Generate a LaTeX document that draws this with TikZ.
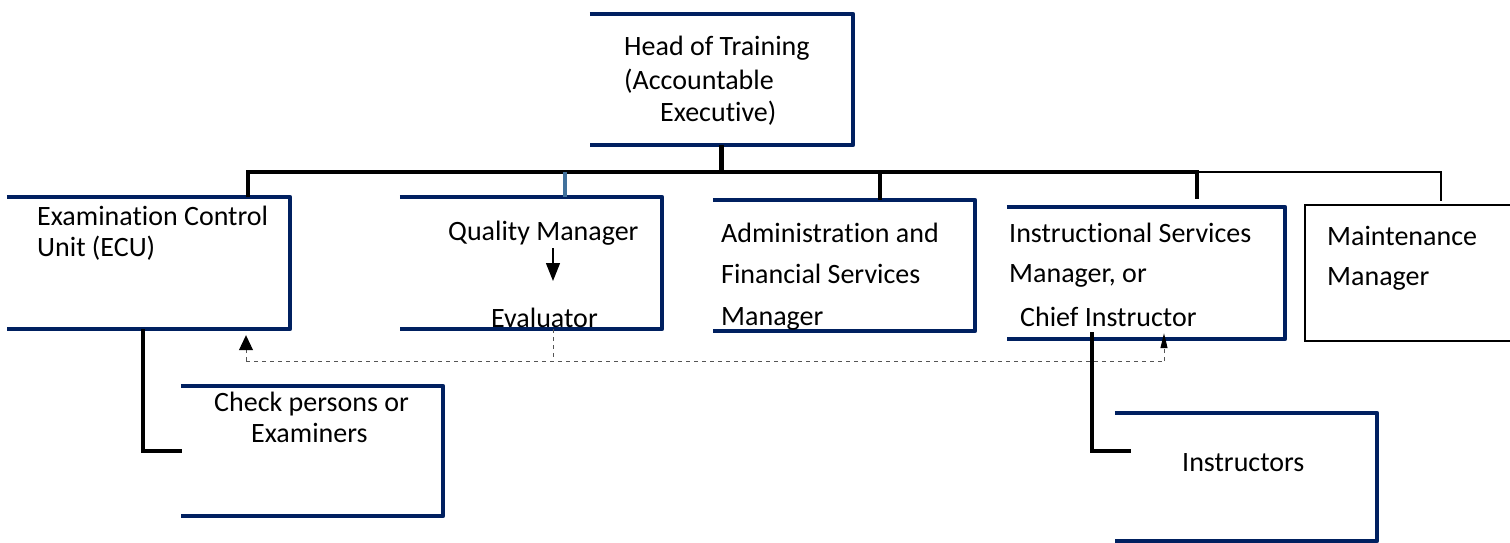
\documentclass[tikz,border=0pt]{standalone}
\usepackage{fontspec}
\setmainfont{Carlito}[RawFeature={-liga;-clig;-calt;-dlig}]
\usetikzlibrary{arrows.meta}
\definecolor{navy}{HTML}{002060}
\definecolor{steel}{HTML}{41719C}
\definecolor{dgray}{HTML}{555555}
\begin{document}
\begin{tikzpicture}[x=1pt,y=-1pt,
  box/.style={rectangle,inner sep=0pt,draw=none},
  txt/.style={inner sep=0pt,anchor=base west,font=\fontsize{28}{33}\selectfont},
  border/.style={draw=navy,line width=4pt,line join=round},
  conn/.style={draw=black,line width=4.5pt},
  thinconn/.style={draw=black,line width=1.3pt},
  dashd/.style={draw=dgray,line width=1pt,dash pattern=on 4pt off 4pt}]
\useasboundingbox (0,0) rectangle (1510,542);
% boxes
\node[box,minimum width=263pt,minimum height=131pt] (head) at (721.5,79.5) {};
\node[box,minimum width=283pt,minimum height=132pt] (ecu) at (148.5,263) {};
\node[box,minimum width=262pt,minimum height=132pt] (qm) at (531,263) {};
\node[box,minimum width=262pt,minimum height=131pt] (admin) at (844,265.5) {};
\node[box,minimum width=278pt,minimum height=132pt] (instr) at (1146,273) {};
\node[box,draw=black,line width=1.3pt,minimum width=225pt,minimum height=136pt] (maint) at (1417.5,273) {};
\node[box,minimum width=262pt,minimum height=130pt] (check) at (312,451) {};
\node[box,minimum width=262pt,minimum height=128pt] (instrs) at (1246,477) {};
\foreach \n in {head,ecu,qm,admin,instr,check,instrs}
  \draw[border] (\n.north west) -- (\n.north east) -- (\n.south east) -- (\n.south west);
% bus and drops
\coordinate (bL) at (248,172);
\coordinate (bQ) at (565,172);
\coordinate (bA) at (880,172);
\coordinate (bR) at (1197,172);
\coordinate (bM) at (1441,172);
\coordinate (instrDrop) at (1197,199);
\draw[conn] (head.south) -- (head.south |- bL);
\draw[conn] (bL |- ecu.north) -- (bL) -- (bR) -- (instrDrop);
\draw[conn] (bA) -- (bA |- admin.north);
\draw[draw=steel,line width=4pt] (bQ) -- (bQ |- qm.north);
\draw[thinconn] (bR) -- (bM) -- ([yshift=3pt]bM |- maint.north);
% subordinate connectors
\coordinate (ecuTurn) at (143,451);
\draw[conn] (ecuTurn |- ecu.south) -- (ecuTurn) -- ([xshift=1pt]ecuTurn -| check.west);
\coordinate (insTurn) at (1092,451);
\draw[conn] ([yshift=7pt]insTurn |- instr.south) -- (insTurn) -- ([xshift=16pt]insTurn -| instrs.west);
% quality manager arrow
\coordinate (qmA1) at (553,248);
\coordinate (qmA2) at (553,281);
\draw[line width=1.3pt,-{Triangle[width=14pt,length=18pt]}] (qmA1) -- (qmA2);
% dashed reporting lines
\coordinate (dQ) at (553,361);
\coordinate (dL) at (246,361);
\coordinate (dR) at (1164,361);
\draw[dashd] (dQ |- qm.south) -- (dQ);
\draw[dashd] (dL) -- (dR);
\draw[dashd,-{Triangle[width=14pt,length=15pt,color=black]}] (dL) -- ([yshift=-6pt]dL |- ecu.south);
\draw[dashd,-{Triangle[width=7pt,length=15pt,color=black]}] (dR) -- ([yshift=6pt]dR |- instr.south);
% texts
\node[txt] (headT1) at (624,55) {Head of Training};
\node[txt] (headT2) at (624,89) {(Accountable};
\node[txt] (headT3) at (660,121) {Executive)};
\node[txt] (ecuT1) at (37,225) {Examination Control};
\node[txt] (ecuT2) at (37,256) {Unit (ECU)};
\node[txt] (qmT1) at (448,240) {Quality Manager};
\node[txt] (qmT2) at (491,327) {Evaluator};
\node[txt] (admT1) at (721,242) {Administration and};
\node[txt] (admT2) at (721,283) {Financial Services};
\node[txt] (admT3) at (721,325) {Manager};
\node[txt] (insT1) at (1009,242) {Instructional Services};
\node[txt] (insT2) at (1009,282) {Manager, or};
\node[txt] (insT3) at (1020,326) {Chief Instructor};
\node[txt] (mntT1) at (1327,245) {Maintenance};
\node[txt] (mntT2) at (1327,285) {Manager};
\node[txt] (chkT1) at (214,411) {Check persons or};
\node[txt] (chkT2) at (251,442) {Examiners};
\node[txt] (instrsT) at (1182,471) {Instructors};
\end{tikzpicture}
\end{document}
